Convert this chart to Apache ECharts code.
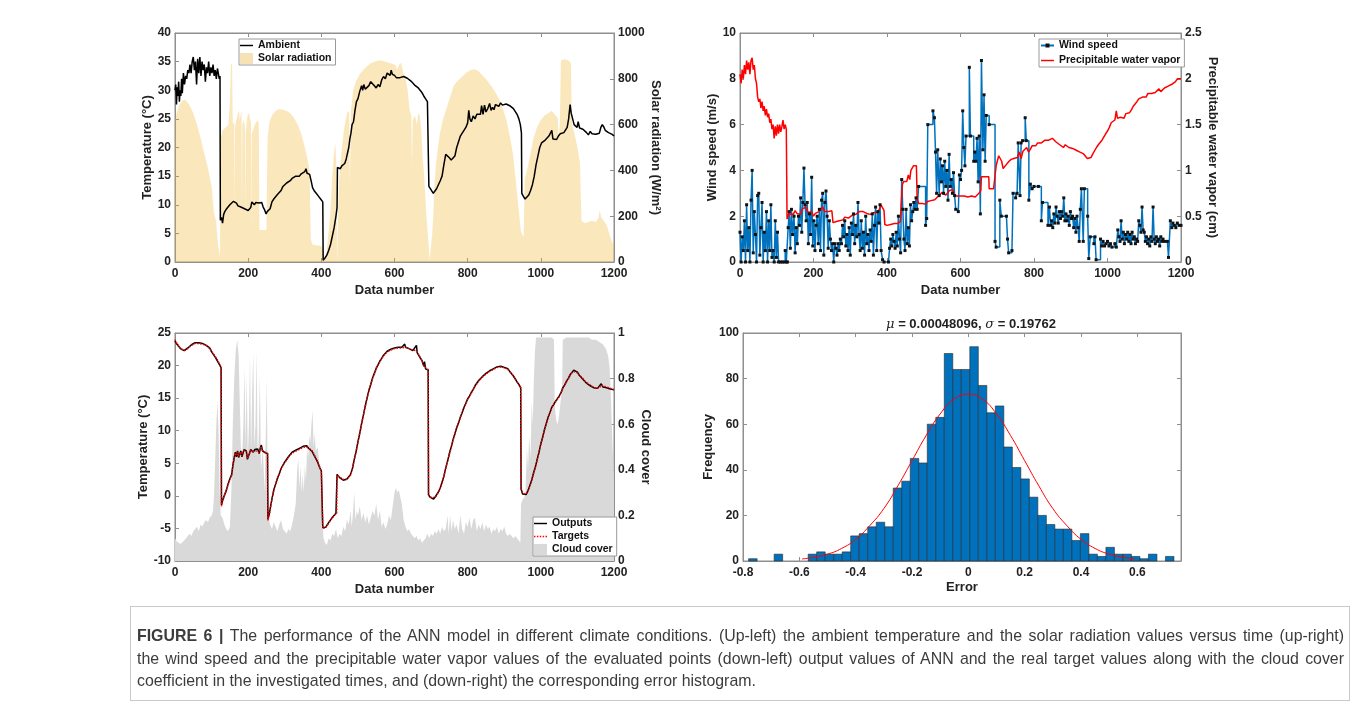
<!DOCTYPE html>
<html>
<head>
<meta charset="utf-8">
<script src="https://cdn.jsdelivr.net/npm/echarts@6.0.0/dist/echarts.min.js"></script>
<style>
html,body{margin:0;padding:0;background:#fff;}
#chart{position:absolute;left:0;top:0;width:1357px;height:708px;}
#cap{position:absolute;left:130px;top:606px;width:1220px;height:95px;box-sizing:border-box;border:1px solid #c9c9c9;
 font-family:'Liberation Sans',Arial,Helvetica,sans-serif;font-size:15.9px;color:#3c3c3c;padding:18px 5px 0 6px;line-height:22.5px;}
#cap .j{white-space:nowrap;text-align:justify;text-align-last:justify;}
#cap .l{white-space:nowrap;}
</style>
</head>
<body>
<div id="chart"></div>
<div id="cap">
<div class="j"><b>FIGURE 6 |</b> The performance of the ANN model in different climate conditions. (Up-left) the ambient temperature and the solar radiation values versus time (up-right)</div>
<div class="j">the wind speed and the precipitable water vapor values of the evaluated points (down-left) output values of ANN and the real target values along with the cloud cover</div>
<div class="l">coefficient in the investigated times, and (down-right) the corresponding error histogram.</div>
</div>
<script>
// ---------------- DATA ----------------
// Panel 1: ambient temperature (°C) vs data number
const ambient = [[0,30],[2,31],[4,27.5],[6,30.5],[8,29],[10,31.5],[12,28],[14,30],[16,29],[18,32],[20,29.5],[23,33],[26,31],[29,32.5],[32,32],[35,33.5],[38,33],[41,34.5],[44,33],[47,35],[50,35.8],[53,33.5],[56,35],[59,31],[62,35.5],[65,33],[68,35.8],[71,32.5],[74,35],[77,33.5],[80,34.5],[83,31.5],[86,34],[89,33],[92,35],[95,32.5],[98,34],[101,33],[104,34.5],[107,32.5],[110,33.5],[113,32],[116,33.8],[119,33.5],[121,32],[123,32.5],[124,7.3],[127,7.8],[130,6.8],[133,8.3],[136,8.8],[140,9.2],[145,9.5],[150,10],[155,10.3],[160,10.6],[165,10.8],[168,10.3],[172,9.8],[176,10],[180,9.6],[185,9.7],[190,9.3],[195,9.4],[200,9],[204,8.9],[207,9.5],[210,10.5],[213,10.2],[217,10],[221,10.4],[225,10.1],[229,10.3],[233,10.2],[237,10.4],[241,9.6],[245,9.1],[249,8.4],[252,8.8],[256,8.5],[260,9.3],[265,10.5],[270,11],[275,11.2],[280,11.8],[285,12],[290,12.5],[295,13.2],[300,13],[305,13.8],[310,13.5],[315,14.2],[320,14.6],[325,14.5],[330,15],[335,15.2],[340,15],[345,15.4],[350,15.6],[355,15.8],[358,16.3],[361,15.5],[364,15.2],[368,15.3],[372,14.2],[376,13],[380,12.5],[386,12],[392,11.5],[398,11],[404,10.5],[405,0.3],[410,0.7],[415,1.2],[420,2],[425,3],[430,4.5],[435,6],[440,8],[443,9.5],[444,16.5],[448,16.5],[452,16.3],[456,16.8],[460,17],[464,17.2],[468,18],[472,18.2],[475,20],[478,21.5],[481,22.5],[484,24],[488,24.5],[492,26.5],[496,28],[500,28.5],[505,29.8],[510,30.8],[513,30],[516,31],[520,30.2],[525,30.5],[530,30.8],[535,31.5],[540,31.2],[545,30.8],[550,30.4],[555,31],[560,30.6],[565,31.8],[570,32.4],[575,32],[580,33],[585,33.3],[588,32.6],[591,33.5],[594,32.8],[597,32.5],[600,32.6],[605,32.2],[610,32.3],[615,32.2],[620,32.1],[625,32.4],[630,32.2],[635,32.1],[640,32.2],[645,31.6],[650,31.3],[655,30.9],[660,30.7],[665,30.4],[670,30],[675,29.6],[680,29],[685,28.5],[690,28],[693,28],[694,13.2],[698,12.8],[702,12.5],[706,12],[710,12.2],[715,12.8],[720,13.5],[725,14.2],[730,15],[735,17],[740,18.8],[745,19],[750,18.2],[755,17.8],[760,17.6],[765,18.5],[770,20],[775,21],[780,22],[785,22.5],[790,23],[795,23.5],[800,24.3],[803,26.5],[806,25],[810,24.5],[815,25.5],[820,25],[825,25.8],[830,26],[835,25.8],[838,27.3],[842,25.8],[846,27.4],[850,26.2],[855,26.8],[860,27.7],[864,26.5],[868,27],[872,26.6],[876,27.5],[880,27.6],[885,27.2],[890,27.8],[895,27.4],[900,27.5],[905,27.6],[910,27.6],[915,27.3],[920,27],[925,26.8],[930,26.5],[935,25.8],[940,25],[944,24],[947,22.5],[948,12],[952,11.5],[957,11],[962,11.2],[967,11.7],[972,12.5],[977,13.5],[982,15],[987,17],[992,18.5],[997,20],[1002,20.8],[1007,20.5],[1012,21.3],[1017,21.5],[1022,22],[1027,21.7],[1030,23],[1033,21.5],[1038,21.8],[1043,21.4],[1048,22],[1053,22.4],[1058,22.2],[1063,22.6],[1068,22.7],[1072,23.5],[1076,25],[1080,27.5],[1083,26],[1087,25],[1091,24],[1095,23.8],[1099,23.5],[1102,24.5],[1106,23.4],[1110,23.6],[1115,23.2],[1120,23],[1125,22.6],[1130,22.2],[1135,22.8],[1140,22.4],[1145,22.2],[1150,22.3],[1155,22],[1160,22.5],[1164,23.5],[1168,24],[1172,23.6],[1176,23],[1180,22.8],[1185,22.6],[1190,22.8],[1195,22.3],[1200,22]];

// Panel 1: solar radiation (W/m2)
const solar = [[0,625],[10,680],[20,705],[28,708],[40,685],[50,650],[60,600],[70,540],[80,475],[90,410],[100,330],[106,220],[112,180],[118,70],[123,25],[125,540],[130,575],[140,590],[146,600],[150,700],[153,860],[156,870],[158,600],[162,610],[163,200],[164,590],[168,620],[172,650],[175,660],[177,620],[179,640],[182,660],[183,190],[184,600],[188,620],[191,590],[192,160],[193,560],[198,640],[202,650],[205,630],[208,600],[209,140],[210,560],[214,580],[218,600],[222,610],[226,620],[229,600],[231,140],[250,140],[253,540],[258,610],[265,640],[275,660],[285,668],[295,665],[305,660],[315,650],[325,630],[335,600],[345,560],[355,500],[362,450],[368,400],[371,100],[376,75],[400,70],[405,60],[407,5],[412,20],[418,100],[424,200],[430,380],[435,480],[438,520],[441,430],[443,0],[446,0],[448,350],[455,480],[462,580],[470,650],[476,660],[478,340],[481,660],[487,750],[495,790],[505,820],[515,840],[525,855],[535,868],[545,875],[555,880],[565,880],[575,875],[585,870],[595,865],[603,860],[607,838],[612,860],[618,870],[624,825],[630,800],[636,750],[641,665],[646,640],[648,420],[650,620],[656,640],[661,600],[665,650],[669,640],[673,580],[677,460],[681,380],[686,230],[691,120],[696,10],[700,5],[703,120],[706,200],[709,330],[713,420],[718,490],[724,560],[732,620],[742,670],[752,720],[762,770],[772,790],[782,805],[795,825],[808,838],[818,842],[828,835],[840,815],[852,795],[864,770],[876,740],[888,705],[898,660],[906,620],[915,550],[924,470],[933,330],[940,220],[945,140],[949,120],[953,110],[956,360],[962,400],[970,460],[980,540],[990,590],[1000,620],[1010,640],[1020,650],[1030,660],[1040,640],[1046,630],[1049,540],[1052,600],[1055,880],[1065,885],[1075,880],[1082,870],[1085,600],[1092,560],[1100,500],[1107,430],[1111,180],[1120,170],[1130,175],[1140,180],[1150,175],[1157,190],[1161,225],[1165,195],[1172,180],[1180,160],[1188,120],[1194,90],[1200,75]];

// Panel 2: wind speed (m/s)
const wind = [[0,1.3],[3,0],[6,1.1],[9,0.5],[12,1.8],[15,0],[18,2.5],[21,0.5],[24,1.5],[27,0],[30,2.7],[33,4.0],[36,0.4],[39,2.2],[42,1.2],[45,0],[48,2.9],[51,3.0],[54,0.3],[57,1.5],[60,2.6],[63,0],[66,1.3],[69,0.5],[72,2.2],[75,0],[78,1.8],[81,0.5],[84,2.5],[87,0.2],[90,0.5],[93,0],[96,1.8],[99,0.2],[102,1.3],[105,0],[110,0],[115,0],[120,0],[123,0.5],[126,0],[129,0],[131,1.5],[134,2.2],[137,0.6],[140,2.3],[143,1.2],[147,2.0],[150,0.4],[153,1.5],[156,0.8],[159,2.0],[162,1.6],[165,2.8],[168,1.3],[171,2.6],[174,4.1],[177,2.5],[180,1.8],[183,2.6],[186,0.8],[189,2.1],[192,1.2],[195,3.7],[198,0.7],[201,1.8],[204,0.5],[207,1.6],[210,2.0],[213,0.8],[216,2.3],[219,0.5],[222,2.7],[225,3.0],[228,0.3],[231,2.6],[234,3.1],[237,2.0],[240,0.6],[243,1.8],[246,1.0],[249,0.5],[252,0.8],[255,0],[258,0.8],[261,0.6],[264,0.3],[267,0.8],[270,0.5],[273,1.0],[276,0.8],[279,1.6],[282,1.1],[285,1.8],[288,0.7],[291,1.2],[294,0.5],[297,1.5],[300,0.3],[303,1.7],[306,1.2],[309,2.1],[312,0.8],[315,1.6],[318,1.1],[321,2.6],[324,1.2],[327,0.5],[330,1.8],[333,0.6],[336,1.3],[339,0.3],[342,2.0],[345,0.8],[348,1.2],[351,0.5],[354,1.4],[357,0.9],[360,2.1],[363,0.3],[366,1.6],[369,2.4],[372,0.5],[375,2.2],[378,1.7],[381,2.5],[384,0.5],[388,0.1],[392,0],[404,0],[407,0.6],[410,1.0],[413,0.7],[416,1.2],[419,0.9],[422,0.6],[425,1.3],[428,0.7],[431,2.0],[434,1.0],[437,0.4],[440,3.6],[443,2.3],[446,1.0],[449,0.5],[452,2.3],[455,0.8],[458,1.5],[461,0.7],[464,2.5],[467,1.8],[470,2.2],[473,2.6],[476,2.3],[479,2.8],[482,2.3],[486,3.3],[505,1.6],[508,1.9],[511,6.0],[525,6.6],[529,6.3],[532,4.8],[535,3.0],[538,4.9],[542,2.9],[545,4.5],[548,3.5],[551,4.2],[554,3.0],[557,4.4],[560,3.3],[563,4.0],[566,2.7],[569,4.7],[572,3.3],[575,3.6],[578,3.0],[581,3.9],[584,2.9],[587,2.3],[594,2.2],[597,3.8],[600,3.6],[603,4.0],[606,6.6],[609,5.0],[612,4.2],[615,5.5],[624,8.5],[627,5.5],[636,4.4],[639,4.8],[642,4.4],[645,5.4],[648,3.5],[651,5.5],[654,2.1],[657,8.8],[661,4.9],[664,7.3],[667,4.4],[670,6.4],[678,6.0],[694,0.9],[697,0.65],[707,2.7],[711,2.0],[725,2.0],[728,1.0],[731,0.4],[740,0.5],[743,3.0],[750,2.8],[754,3.0],[757,5.2],[762,2.9],[765,5.2],[769,5.3],[776,6.3],[779,5.3],[786,2.7],[790,3.4],[795,3.2],[800,3.3],[812,3.3],[820,1.8],[823,2.6],[838,1.6],[842,2.4],[845,1.6],[848,1.8],[851,1.5],[854,2.1],[857,1.7],[860,2.4],[863,2.0],[866,1.7],[869,2.2],[872,1.9],[875,2.2],[878,2.0],[881,2.8],[884,1.8],[887,2.1],[890,1.8],[893,2.0],[896,1.6],[899,2.2],[902,1.9],[905,2.0],[908,1.5],[911,1.9],[914,1.3],[917,2.0],[920,1.5],[923,0.9],[926,2.3],[929,3.2],[934,0.9],[937,3.2],[946,2.0],[949,0.15],[953,1.1],[963,0.8],[966,1.1],[969,0.1],[981,1.0],[984,0.7],[988,0.9],[992,0.7],[996,0.8],[1000,0.9],[1004,0.7],[1008,0.8],[1012,0.65],[1020,0.8],[1024,0.65],[1028,1.4],[1031,1.1],[1034,0.9],[1037,1.8],[1040,1.0],[1043,1.3],[1046,0.8],[1049,1.2],[1052,1.0],[1055,1.3],[1058,0.9],[1061,1.2],[1064,0.8],[1067,1.3],[1070,1.0],[1073,1.1],[1076,0.8],[1079,1.0],[1082,0.9],[1085,1.8],[1088,1.6],[1091,1.3],[1094,2.4],[1097,1.4],[1100,1.3],[1103,0.9],[1106,1.1],[1109,0.8],[1112,1.0],[1115,0.7],[1118,1.1],[1121,0.9],[1124,2.4],[1127,1.0],[1130,0.8],[1133,1.1],[1136,0.9],[1139,1.0],[1142,0.7],[1145,1.1],[1148,0.9],[1151,1.0],[1155,0.9],[1163,0.9],[1166,0.2],[1171,1.8],[1175,1.5],[1178,1.7],[1182,1.6],[1186,1.5],[1190,1.7],[1195,1.6],[1200,1.6]];

// Panel 2: precipitable water vapor (cm)
const pwv = [[0,2.05],[3,1.95],[6,2.1],[9,2.0],[12,2.15],[15,2.05],[18,2.2],[21,2.1],[24,2.18],[27,2.05],[30,2.2],[33,2.23],[36,2.1],[39,2.15],[42,2.0],[45,1.95],[48,1.8],[51,1.75],[54,1.78],[57,1.68],[60,1.75],[63,1.65],[66,1.7],[69,1.6],[72,1.67],[75,1.58],[78,1.62],[81,1.52],[84,1.56],[87,1.45],[90,1.5],[93,1.35],[96,1.48],[99,1.38],[102,1.5],[105,1.4],[108,1.5],[111,1.42],[114,1.48],[117,1.55],[120,1.45],[123,1.5],[126,1.45],[128,0.47],[131,0.5],[134,0.55],[137,0.52],[140,0.54],[145,0.52],[150,0.56],[155,0.53],[160,0.55],[165,0.52],[170,0.58],[175,0.56],[180,0.6],[185,0.54],[190,0.52],[195,0.55],[200,0.5],[205,0.53],[210,0.52],[215,0.55],[220,0.57],[225,0.6],[230,0.55],[235,0.57],[240,0.55],[245,0.55],[250,0.56],[253,0.43],[260,0.44],[265,0.46],[270,0.45],[275,0.47],[280,0.46],[285,0.49],[290,0.5],[295,0.48],[300,0.5],[305,0.51],[310,0.5],[315,0.52],[320,0.51],[325,0.55],[330,0.57],[335,0.55],[340,0.56],[345,0.53],[350,0.54],[355,0.52],[360,0.53],[365,0.54],[370,0.52],[375,0.54],[380,0.56],[384,0.62],[388,0.6],[392,0.56],[394,0.41],[400,0.4],[410,0.41],[420,0.42],[430,0.42],[436,0.44],[440,0.46],[442,0.85],[446,0.88],[450,0.9],[454,0.88],[458,0.95],[462,0.9],[465,1.0],[469,1.02],[472,1.05],[476,1.07],[480,1.05],[482,0.7],[486,0.64],[490,0.62],[495,0.64],[500,0.65],[505,0.63],[510,0.66],[515,0.65],[520,0.67],[525,0.66],[530,0.68],[535,0.7],[540,0.72],[545,0.73],[550,0.76],[555,0.74],[560,0.73],[565,0.75],[570,0.78],[575,0.8],[580,0.79],[583,0.72],[590,0.72],[600,0.72],[610,0.72],[620,0.71],[630,0.72],[640,0.71],[645,0.73],[650,0.75],[655,0.78],[657,0.93],[670,0.93],[677,0.93],[678,0.8],[690,0.8],[694,0.82],[697,1.05],[700,1.1],[704,1.16],[708,1.18],[712,1.1],[716,1.02],[720,1.0],[724,1.06],[728,1.08],[732,1.1],[738,1.12],[745,1.13],[750,1.15],[755,1.14],[760,1.2],[765,1.13],[770,1.21],[775,1.23],[780,1.25],[785,1.2],[790,1.23],[795,1.27],[800,1.29],[805,1.27],[810,1.3],[815,1.31],[820,1.3],[825,1.32],[830,1.33],[835,1.31],[840,1.33],[845,1.34],[850,1.35],[855,1.33],[860,1.31],[865,1.29],[870,1.28],[875,1.27],[880,1.25],[885,1.28],[890,1.27],[895,1.25],[900,1.26],[905,1.24],[910,1.23],[915,1.22],[920,1.21],[925,1.2],[930,1.19],[935,1.18],[940,1.16],[945,1.13],[950,1.12],[955,1.14],[960,1.18],[965,1.2],[970,1.25],[975,1.28],[980,1.3],[985,1.33],[990,1.35],[995,1.4],[1000,1.43],[1005,1.47],[1010,1.52],[1015,1.5],[1020,1.55],[1024,1.65],[1027,1.57],[1030,1.55],[1035,1.58],[1040,1.6],[1045,1.57],[1050,1.62],[1055,1.64],[1060,1.63],[1065,1.66],[1070,1.7],[1075,1.72],[1080,1.75],[1085,1.78],[1090,1.8],[1095,1.8],[1100,1.82],[1105,1.8],[1110,1.84],[1115,1.85],[1120,1.84],[1125,1.86],[1130,1.85],[1135,1.87],[1140,1.89],[1145,1.86],[1150,1.88],[1155,1.9],[1160,1.89],[1165,1.92],[1170,1.91],[1175,1.94],[1180,1.95],[1185,1.97],[1190,2.0],[1195,2.0],[1200,2.0]];

// Panel 3: ANN targets and outputs (°C)
const targets = [[0,24],[5,23.4],[10,23],[15,22.6],[20,22.4],[25,22.3],[30,22.4],[35,22.6],[40,22.9],[45,23.1],[50,23.3],[55,23.4],[60,23.5],[65,23.4],[70,23.4],[75,23.3],[80,23.3],[85,23.1],[90,22.9],[95,22.6],[100,22.2],[105,21.8],[110,21.4],[115,21],[120,20.4],[124,20],[126,19.6],[127,-1.6],[130,-0.8],[135,0],[140,0.8],[145,1.7],[150,2.6],[155,3.2],[158,4.5],[162,5.8],[165,6.6],[168,6.2],[171,6.8],[174,6.0],[177,6.3],[180,6.8],[183,6.1],[186,6.5],[189,7.0],[192,6.9],[195,6.8],[198,5.8],[201,5.5],[204,6.5],[207,7.0],[210,7.2],[214,6.8],[218,7.0],[222,6.9],[226,7.1],[230,6.6],[233,7.2],[236,7.6],[239,7.0],[243,6.9],[247,6.7],[251,6.6],[253,6.5],[254,-3.8],[258,-2.8],[262,-1.5],[266,-0.2],[270,0.8],[275,1.8],[280,2.6],[285,3.4],[290,4.1],[295,4.7],[300,5.1],[305,5.5],[310,5.9],[315,6.3],[320,6.6],[325,6.7],[330,6.9],[335,7.0],[340,7.2],[345,7.3],[350,7.5],[355,7.5],[360,7.6],[365,7.4],[370,7.3],[375,6.9],[380,6.4],[385,5.8],[390,5.1],[395,4.5],[400,3.8],[403,3.5],[404,-5.0],[408,-5.1],[412,-4.9],[416,-4.6],[420,-4.2],[425,-3.8],[430,-3.4],[435,-3.0],[440,-2.8],[442,-2.6],[443,3.2],[446,3.3],[450,2.9],[455,2.7],[460,2.5],[465,2.5],[470,2.5],[475,2.8],[480,3.2],[485,4.2],[490,5.5],[495,6.8],[500,8.2],[505,9.6],[510,11],[515,12.4],[520,13.7],[525,15],[530,16.1],[535,17.1],[540,18],[545,18.8],[550,19.5],[555,20.1],[560,20.6],[565,21.1],[570,21.5],[575,21.8],[580,22.1],[585,22.3],[590,22.4],[595,22.5],[600,22.6],[605,22.6],[610,22.7],[615,22.7],[620,22.7],[625,22.8],[630,22.8],[635,22.7],[640,22.6],[645,22.5],[650,22.4],[655,22.2],[660,22.3],[665,21.8],[670,21.3],[675,20.7],[680,20.1],[685,19.7],[690,19.5],[692,19.4],[693,0.1],[697,-0.1],[702,-0.3],[707,-0.2],[712,-0.2],[716,0.1],[720,0.5],[725,1.2],[730,2.0],[735,3.0],[740,4.2],[745,5.3],[750,6.4],[755,7.5],[760,8.5],[765,9.5],[770,10.4],[775,11.2],[780,12],[785,12.8],[790,13.5],[795,14.2],[800,14.8],[805,15.3],[810,15.8],[815,16.3],[820,16.8],[825,17.2],[830,17.6],[835,17.9],[840,18.2],[845,18.5],[850,18.7],[855,18.9],[860,19.1],[865,19.2],[870,19.4],[875,19.5],[880,19.7],[885,19.7],[890,19.8],[895,19.8],[900,19.7],[905,19.6],[910,19.4],[915,19.1],[920,18.8],[925,18.4],[930,18.0],[935,17.5],[940,17.0],[945,16.6],[946,1.0],[950,0.4],[955,0.2],[960,0.3],[965,0.8],[970,1.5],[975,2.4],[980,3.4],[985,4.4],[990,5.5],[995,6.7],[1000,7.9],[1005,9.0],[1010,10.1],[1015,11.1],[1020,12.0],[1025,12.8],[1030,13.5],[1035,14.0],[1040,14.4],[1045,14.8],[1050,15.2],[1055,15.8],[1060,16.5],[1065,17.0],[1070,17.5],[1075,18.0],[1080,18.5],[1085,18.9],[1090,19.2],[1095,19.1],[1100,18.9],[1105,18.6],[1110,18.3],[1115,18.0],[1120,17.6],[1125,17.4],[1130,17.2],[1135,17.0],[1140,16.8],[1145,16.7],[1150,16.5],[1155,16.6],[1160,16.6],[1165,17.0],[1170,16.8],[1175,16.8],[1180,16.7],[1185,16.6],[1190,16.5],[1195,16.4],[1200,16.3]];
const outputs = [[0,23.8],[5,23.3],[10,23],[15,22.6],[20,22.5],[25,22.3],[30,22.4],[35,22.7],[40,22.9],[45,23.2],[50,23.3],[55,23.5],[60,23.4],[65,23.5],[70,23.3],[75,23.4],[80,23.2],[85,23.1],[90,22.8],[95,22.7],[100,22.1],[105,21.9],[110,21.3],[115,21.1],[120,20.3],[124,20],[126,19.7],[127,-1.4],[130,-0.7],[135,0.1],[140,0.8],[145,1.8],[150,2.6],[155,3.3],[158,4.6],[162,5.9],[165,6.7],[168,6.0],[171,6.9],[174,5.9],[177,6.4],[180,6.9],[183,6.0],[186,6.6],[189,7.1],[192,6.8],[195,6.9],[198,5.6],[201,5.4],[204,6.6],[207,7.1],[210,7.3],[214,6.7],[218,7.1],[222,6.8],[226,7.2],[230,6.5],[233,7.3],[236,7.8],[239,6.9],[243,7.0],[247,6.6],[251,6.7],[253,6.5],[254,-3.6],[258,-2.7],[262,-1.4],[266,-0.2],[270,0.9],[275,1.8],[280,2.7],[285,3.4],[290,4.2],[295,4.7],[300,5.2],[305,5.5],[310,6.0],[315,6.3],[320,6.7],[325,6.6],[330,7.0],[335,7.0],[340,7.3],[345,7.2],[350,7.6],[355,7.4],[360,7.7],[365,7.3],[370,7.4],[375,6.8],[380,6.5],[385,5.7],[390,5.2],[395,4.4],[400,3.8],[403,3.6],[404,-4.9],[408,-5.2],[412,-4.8],[416,-4.6],[420,-4.1],[425,-3.8],[430,-3.3],[435,-3.0],[440,-2.7],[442,-2.6],[443,3.3],[446,3.4],[450,2.8],[455,2.7],[460,2.4],[465,2.5],[470,2.6],[475,2.8],[480,3.3],[485,4.2],[490,5.6],[495,6.8],[500,8.3],[505,9.6],[510,11.1],[515,12.4],[520,13.8],[525,15],[530,16.2],[535,17.1],[540,18.1],[545,18.8],[550,19.6],[555,20.1],[560,20.7],[565,21.1],[570,21.6],[575,21.8],[580,22.2],[585,22.3],[590,22.5],[595,22.5],[600,22.7],[605,22.6],[610,22.8],[615,22.7],[620,22.8],[625,22.9],[628,23.3],[630,22.8],[635,22.8],[640,22.6],[645,22.6],[650,22.3],[655,22.1],[660,23.1],[662,22.0],[665,21.9],[670,21.2],[675,20.8],[680,19.9],[682,20.6],[685,19.5],[690,19.7],[692,19.3],[693,0.2],[697,-0.2],[702,-0.2],[707,-0.5],[712,-0.1],[716,0.1],[720,0.6],[725,1.2],[730,2.1],[735,3.0],[740,4.3],[745,5.3],[750,6.5],[755,7.5],[760,8.6],[765,9.5],[770,10.5],[775,11.2],[780,12.1],[785,12.8],[790,13.6],[795,14.2],[800,14.9],[805,15.3],[810,15.9],[815,16.3],[820,16.9],[825,17.2],[830,17.7],[835,17.9],[840,18.3],[845,18.5],[850,18.8],[855,18.9],[860,19.2],[865,19.2],[870,19.5],[875,19.5],[880,19.8],[885,19.7],[890,19.9],[895,19.8],[900,19.7],[905,19.6],[910,19.5],[915,19.1],[920,18.9],[925,18.4],[930,18.1],[935,17.5],[940,17.1],[945,16.6],[946,1.1],[950,0.3],[955,0.3],[960,0.2],[965,0.8],[970,1.6],[975,2.4],[980,3.5],[985,4.4],[990,5.6],[995,6.7],[1000,8.0],[1005,9.0],[1010,10.2],[1015,11.1],[1020,12.1],[1025,12.8],[1030,13.6],[1035,14.0],[1040,14.5],[1045,14.8],[1050,15.3],[1055,15.8],[1060,16.6],[1065,17.0],[1070,17.6],[1075,18.0],[1080,18.6],[1085,18.9],[1090,19.3],[1095,19.0],[1100,19.0],[1105,18.5],[1110,18.4],[1115,17.9],[1120,17.7],[1125,17.3],[1130,17.3],[1135,16.9],[1140,16.9],[1145,16.6],[1150,16.6],[1155,16.5],[1160,16.7],[1165,17.2],[1170,16.7],[1175,16.9],[1180,16.6],[1185,16.7],[1190,16.4],[1195,16.5],[1200,16.3]];

// Panel 3: cloud cover coefficient (0-1)
const cloud = [[0,0.1],[5,0.085],[10,0.09],[15,0.075],[20,0.08],[25,0.09],[30,0.1],[35,0.095],[40,0.12],[45,0.11],[50,0.13],[55,0.14],[60,0.15],[65,0.13],[70,0.16],[75,0.15],[80,0.17],[85,0.18],[90,0.17],[95,0.19],[100,0.2],[104,0.22],[107,0.3],[110,0.45],[113,0.6],[116,0.7],[119,0.58],[122,0.3],[125,0.2],[130,0.19],[135,0.16],[140,0.14],[145,0.13],[150,0.15],[154,0.3],[158,0.6],[162,0.8],[166,0.92],[170,0.97],[174,0.9],[177,0.7],[180,0.5],[183,0.45],[187,0.6],[190,0.85],[193,0.5],[196,0.82],[199,0.45],[202,0.6],[205,0.9],[208,0.48],[211,0.75],[214,0.91],[217,0.5],[220,0.6],[223,0.92],[226,0.45],[229,0.55],[232,0.82],[235,0.4],[240,0.5],[245,0.3],[248,0.55],[251,0.8],[254,0.2],[260,0.16],[265,0.14],[270,0.17],[275,0.15],[280,0.13],[285,0.16],[290,0.18],[295,0.14],[300,0.13],[305,0.12],[310,0.14],[315,0.13],[320,0.16],[325,0.2],[330,0.25],[334,0.4],[337,0.45],[340,0.32],[343,0.42],[346,0.3],[349,0.38],[352,0.3],[355,0.42],[358,0.35],[361,0.5],[364,0.45],[367,0.55],[370,0.52],[373,0.6],[376,0.66],[379,0.5],[382,0.56],[385,0.48],[390,0.5],[395,0.42],[400,0.3],[403,0.18],[406,0.1],[410,0.08],[415,0.07],[420,0.1],[425,0.09],[430,0.12],[435,0.11],[440,0.14],[445,0.1],[450,0.12],[455,0.11],[460,0.15],[465,0.13],[470,0.18],[475,0.16],[480,0.22],[483,0.15],[486,0.2],[490,0.3],[493,0.18],[497,0.22],[500,0.2],[505,0.24],[510,0.18],[515,0.21],[520,0.17],[525,0.2],[530,0.16],[535,0.19],[540,0.22],[545,0.2],[550,0.25],[555,0.18],[560,0.22],[565,0.15],[570,0.17],[575,0.14],[580,0.16],[585,0.2],[590,0.18],[595,0.24],[600,0.3],[604,0.32],[608,0.3],[612,0.31],[616,0.28],[620,0.25],[625,0.18],[630,0.15],[635,0.13],[640,0.14],[645,0.12],[650,0.11],[655,0.1],[660,0.11],[665,0.09],[670,0.1],[675,0.08],[680,0.09],[685,0.1],[690,0.12],[695,0.1],[700,0.12],[705,0.11],[710,0.13],[715,0.12],[720,0.14],[725,0.12],[730,0.15],[735,0.13],[740,0.14],[745,0.2],[748,0.12],[752,0.2],[756,0.13],[760,0.18],[765,0.14],[770,0.16],[775,0.12],[780,0.2],[785,0.14],[790,0.12],[795,0.17],[800,0.15],[805,0.19],[810,0.14],[815,0.18],[820,0.19],[825,0.13],[830,0.16],[835,0.14],[840,0.17],[845,0.13],[850,0.16],[855,0.14],[860,0.15],[865,0.12],[870,0.14],[875,0.13],[880,0.15],[885,0.12],[890,0.14],[895,0.13],[900,0.15],[905,0.12],[910,0.11],[915,0.12],[920,0.11],[925,0.1],[930,0.11],[935,0.1],[940,0.09],[944,0.08],[946,0.25],[950,0.27],[955,0.28],[958,0.3],[962,0.5],[965,0.4],[968,0.55],[972,0.45],[975,0.7],[978,0.6],[981,0.8],[984,0.92],[987,0.98],[1000,0.98],[1010,0.98],[1020,0.98],[1030,0.98],[1036,0.97],[1038,0.68],[1042,0.62],[1046,0.6],[1050,0.64],[1054,0.7],[1058,0.75],[1060,0.97],[1070,0.98],[1080,0.98],[1090,0.98],[1100,0.98],[1110,0.98],[1120,0.98],[1130,0.98],[1140,0.97],[1150,0.97],[1160,0.96],[1170,0.95],[1178,0.93],[1184,0.9],[1188,0.85],[1192,0.7],[1196,0.5],[1200,0.35]];

// Panel 4: error histogram
const histBinStart = -0.78;
const histBinWidth = 0.0302;
const histCounts = [1,0,0,3,0,0,0,3,4,3,3,4,11,12,15,17,15,32,35,45,43,60,63,91,84,84,94,77,65,68,50,41,36,28,20,16,14,14,9,12,3,2,6,3,3,2,1,3,0,2];
const fitX = [-0.59,-0.55,-0.5,-0.45,-0.4,-0.35,-0.3,-0.25,-0.2,-0.15,-0.1,-0.05,0,0.05,0.1,0.15,0.2,0.25,0.3,0.35,0.4,0.45,0.5,0.55,0.59];
const fitY = [0.9,1.6,3.0,5.5,9.5,15.5,23,33,44,55,64.5,71,73.2,71,64.5,55,44,33,23,15.5,9.5,5.5,3.0,1.6,0.9];
const histTitle = '{g|μ} = 0.00048096, {g|σ} = 0.19762';

// ---------------- CHART ----------------
const FONT = "'Liberation Sans', Arial, Helvetica, sans-serif";
const AX = '#8f8f8f';
const TXT = '#222';
const ICON_LINE = 'path://M0,0H18V2H0Z';
const ICON_DOT = 'path://M0,0h2v2h-2z M4,0h2v2h-2z M8,0h2v2h-2z M12,0h2v2h-2z M16,0h2v2h-2z';
const fmt = (v) => String(Math.round(v * 10000) / 10000);
const tickStyle = {show:true, inside:true, length:4, lineStyle:{color:AX, width:1}};
const lblStyle = (m) => ({show:true, margin:m, color:TXT, fontFamily:FONT, fontSize:12, fontWeight:'bold', formatter:fmt});
const nameStyle = {color:TXT, fontFamily:FONT, fontSize:13, fontWeight:'bold'};

function xBottom(g, min, max, interval, name, gap) {
  return {type:'value', gridIndex:g, position:'bottom', min, max, interval,
    axisLine:{show:true, onZero:false, lineStyle:{color:AX}}, axisTick:tickStyle,
    axisLabel:lblStyle(6), splitLine:{show:false},
    name, nameLocation:'middle', nameGap:gap, nameTextStyle:nameStyle};
}
function xTop(g, min, max, interval) {
  return {type:'value', gridIndex:g, position:'top', min, max, interval,
    axisLine:{show:true, onZero:false, lineStyle:{color:AX}}, axisTick:tickStyle,
    axisLabel:{show:false}, splitLine:{show:false}};
}
function yAx(g, pos, min, max, interval, name, gap, showLabel) {
  return {type:'value', gridIndex:g, position:pos, min, max, interval,
    axisLine:{show:true, onZero:false, lineStyle:{color:AX}}, axisTick:tickStyle,
    axisLabel: showLabel === false ? {show:false} : lblStyle(4), splitLine:{show:false},
    name: name || '', nameLocation:'middle', nameGap:gap || 0,
    nameRotate: pos === 'right' ? -90 : 90, nameTextStyle:nameStyle};
}

const legendCommon = {orient:'vertical', backgroundColor:'#fff', borderColor:'#9a9a9a', borderWidth:1, borderRadius:0,
  padding:[1,4,1,1], itemGap:2, itemWidth:13, itemHeight:11, selectedMode:false,
  textStyle:{fontFamily:FONT, fontSize:10.5, fontWeight:'bold', color:'#111'}};

const gridCommon = {show:true, borderColor:AX, borderWidth:1, backgroundColor:'#fff', containLabel:false, outerBoundsMode:'none'};

const histX = xBottom(3, -0.8, 0.755, 0.2, 'Error', 20);
histX.axisLabel.showMaxLabel = false;

const option = {
  animation:false,
  backgroundColor:'#fff',
  title:{text:histTitle, left:966, top:313, textAlign:'center',
    textStyle:{fontFamily:FONT, fontSize:13, fontWeight:'bold', color:TXT,
      rich:{g:{fontFamily:'DejaVu Serif', fontStyle:'italic', fontWeight:'normal', fontSize:13, color:TXT}}}},
  grid:[
    Object.assign({left:175, top:33, width:439, height:229}, gridCommon),
    Object.assign({left:740, top:33, width:441, height:229}, gridCommon),
    Object.assign({left:175, top:333, width:439, height:228}, gridCommon),
    Object.assign({left:743, top:333, width:438, height:228}, gridCommon)
  ],
  xAxis:[
    xBottom(0, 0, 1200, 200, 'Data number', 22), xTop(0, 0, 1200, 200),
    xBottom(1, 0, 1200, 200, 'Data number', 22), xTop(1, 0, 1200, 200),
    xBottom(2, 0, 1200, 200, 'Data number', 22), xTop(2, 0, 1200, 200),
    histX, xTop(3, -0.8, 0.755, 0.2)
  ],
  yAxis:[
    yAx(0, 'left', 0, 40, 5, 'Temperature (°C)', 20),
    yAx(0, 'right', 0, 1000, 200, 'Solar radiation (W/m²)', 18),
    yAx(1, 'left', 0, 10, 2, 'Wind speed (m/s)', 11),
    yAx(1, 'right', 0, 2.5, 0.5, 'Precipitable water vapor (cm)', 23),
    yAx(2, 'left', -10, 25, 5, 'Temperature (°C)', 17),
    yAx(2, 'right', 0, 1, 0.2, 'Cloud cover', 16),
    yAx(3, 'left', 0, 100, 20, 'Frequency', 24),
    yAx(3, 'right', 0, 100, 20, '', 0, false)
  ],
  legend:[
    Object.assign({}, legendCommon, {left:239, top:39,
      data:[{name:'Ambient', icon:ICON_LINE, itemStyle:{color:'#000'}},
            {name:'Solar radiation', icon:'rect', itemStyle:{color:'#F7E2B5', opacity:1}}]}),
    Object.assign({}, legendCommon, {left:1039, top:39, itemHeight:5, itemGap:4,
      data:['Wind speed', {name:'Precipitable water vapor', icon:ICON_LINE, itemStyle:{color:'#FF0000'}}]}),
    Object.assign({}, legendCommon, {left:533, top:517,
      data:[{name:'Outputs', icon:ICON_LINE, itemStyle:{color:'#000'}},
            {name:'Targets', icon:ICON_DOT, itemStyle:{color:'#FF0000'}},
            {name:'Cloud cover', icon:'rect', itemStyle:{color:'#D9D9D9', opacity:1}}]})
  ],
  series:[
    {name:'Ambient', type:'line', xAxisIndex:0, yAxisIndex:0, data:ambient, symbol:'none',
      lineStyle:{color:'#000', width:1.5}, itemStyle:{color:'#000'}},
    {name:'Solar radiation', type:'line', xAxisIndex:0, yAxisIndex:1, data:solar, symbol:'none',
      lineStyle:{width:0, color:'#EDB120', opacity:0}, itemStyle:{color:'#EDB120'},
      areaStyle:{color:'#EDB120', opacity:0.3}},
    {name:'Wind speed', type:'line', xAxisIndex:2, yAxisIndex:2, data:wind, step:'end',
      symbol:'rect', symbolSize:3, showAllSymbol:true,
      lineStyle:{color:'#0072BD', width:1.5}, itemStyle:{color:'#111'}},
    {name:'Precipitable water vapor', type:'line', xAxisIndex:2, yAxisIndex:3, data:pwv, symbol:'none',
      lineStyle:{color:'#FF0000', width:1.5}, itemStyle:{color:'#FF0000'}},
    {name:'Cloud cover', type:'line', xAxisIndex:4, yAxisIndex:5, data:cloud, symbol:'none',
      lineStyle:{width:0, color:'#D9D9D9', opacity:0}, itemStyle:{color:'#D9D9D9'},
      areaStyle:{color:'#D9D9D9', opacity:1}},
    {name:'Outputs', type:'line', xAxisIndex:4, yAxisIndex:4, data:outputs, symbol:'none',
      lineStyle:{color:'#000', width:1.5}, itemStyle:{color:'#000'}},
    {name:'Targets', type:'line', xAxisIndex:4, yAxisIndex:4, data:targets, symbol:'none',
      lineStyle:{color:'#FF0000', width:1.5, type:'dotted'}, itemStyle:{color:'#FF0000'}},
    {name:'Histogram', type:'custom', xAxisIndex:6, yAxisIndex:6,
      data: histCounts.map((c, k) => [histBinStart + k * histBinWidth, histBinStart + (k + 1) * histBinWidth, c]),
      encode:{x:[0,1], y:2},
      renderItem: function (params, api) {
        if (api.value(2) <= 0) return null;
        const p0 = api.coord([api.value(0), api.value(2)]);
        const p1 = api.coord([api.value(1), 0]);
        return {type:'rect', shape:{x:p0[0], y:p0[1], width:p1[0]-p0[0], height:p1[1]-p0[1]},
          style:{fill:'#0072BD', stroke:'#2a2a2a', lineWidth:0.6}};
      }},
    {name:'Fit', type:'line', xAxisIndex:6, yAxisIndex:6, data:fitX.map((x, i) => [x, fitY[i]]),
      symbol:'none', smooth:true, lineStyle:{color:'#FF0000', width:1}, z:5}
  ]
};

const chart = echarts.init(document.getElementById('chart'), null, {renderer:'canvas'});
chart.setOption(option);
</script>
</body>
</html>
